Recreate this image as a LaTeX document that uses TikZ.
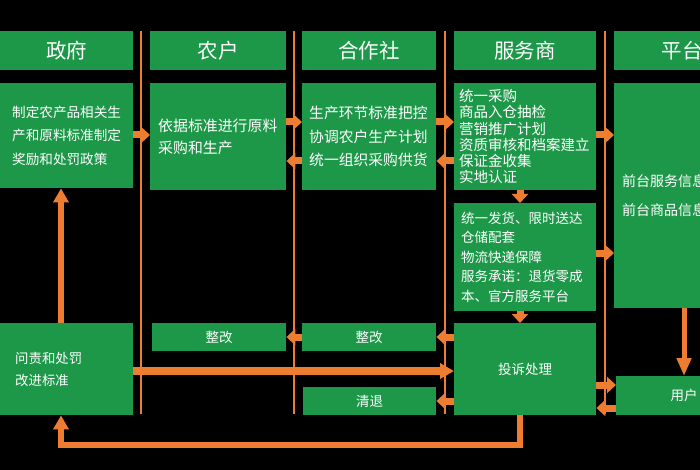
\documentclass[tikz,border=0pt]{standalone}
\usepackage{fontspec}
\setmainfont{Noto Sans CJK SC}
\usetikzlibrary{arrows.meta}
\usetikzlibrary{calc}
\definecolor{boxgreen}{RGB}{28,152,72}
\definecolor{lineorange}{RGB}{237,125,49}

\begin{document}
\begin{tikzpicture}
[x=1pt,y=-1pt,
  headdecorate/.style={fill=boxgreen,text=white,inner sep=0pt,anchor=north west,font=\fontsize{20.5}{24}\selectfont},
  boxdecorate/.style={fill=boxgreen,text=white,anchor=north west,align=left,inner ysep=0pt},
  smalldecorate/.style={fill=boxgreen,text=white,inner sep=0pt,anchor=north west,font=\fontsize{13.5}{16}\selectfont},
  linedecorate/.style={-,draw=lineorange,line width=1.6pt},
  arrowdecorate/.style={draw=lineorange,line width=7pt,-{Triangle[length=9pt,width=16pt]}},
  pathdecorate/.style={draw=lineorange,line width=6.5pt,-{Triangle[length=14pt,width=15pt]}}]
\useasboundingbox (0,0) rectangle (700,470);
\clip (0,0) rectangle (700,470);
\fill[black] (0,0) rectangle (700,470);
%% column separators
\foreach \sepname/\x in {sepa/141, sepb/294, sepc/445, sepd/605}
{
  \coordinate (\sepname top) at (\x,31);
  \coordinate (\sepname bottom) at (\x,414);
  \draw[linedecorate] (\sepname top) -- (\sepname bottom);
}
%% column heads
\foreach \nodename/\x/\w/\label in {govhead/0/133/政府, farmerhead/150/136/农户,
  coophead/302/134/合作社, svchead/454/142/服务商, plathead/614/136/平台}
{
  \node (\nodename) at (\x,31) [headdecorate,minimum width=\w pt,minimum height=39pt] {\label};
}
%% boxes
\node (govbody) at (0,83) [boxdecorate,inner xsep=12pt,text width=109pt,minimum height=105pt,
  font=\fontsize{13.6}{23.5}\selectfont] {制定农产品相关生\\产和原料标准制定\\奖励和处罚政策};
\node (farmerbody) at (150,83) [boxdecorate,inner xsep=8pt,text width=120pt,minimum height=107pt,
  font=\fontsize{14.9}{22}\selectfont] {依据标准进行原料\\采购和生产};
\node (coopbody) at (302,83) [boxdecorate,inner xsep=7pt,text width=120pt,minimum height=107pt,
  font=\fontsize{14.8}{23.5}\selectfont] {生产环节标准把控\\协调农户生产计划\\统一组织采购供货};
\node (svcbody) at (454,83) [boxdecorate,inner xsep=5pt,text width=132pt,minimum height=107pt,
  font=\fontsize{14.5}{16.3}\selectfont] {统一采购\\商品入仓抽检\\营销推广计划\\资质审核和档案建立\\保证金收集\\实地认证};
\node (deliver) at (454,203) [boxdecorate,inner xsep=7pt,text width=128pt,minimum height=108pt,
  font=\fontsize{13.5}{19.5}\selectfont] {统一发货、限时送达\\仓储配套\\物流快递保障\\服务承诺：退货零成\\本、官方服务平台};
\node (platbody) at (614,83) [boxdecorate,inner xsep=8pt,text width=120pt,minimum height=225pt,
  font=\fontsize{14}{29}\selectfont] {前台服务信息\\前台商品信息};
\node (problem) at (0,323) [boxdecorate,inner xsep=15pt,text width=103pt,minimum height=92pt,
  font=\fontsize{13.4}{22}\selectfont] {问责和处罚\\改进标准};
\node (farmerfix) at (152,323) [smalldecorate,minimum width=134pt,minimum height=28pt] {整改};
\node (coopfix) at (302,323) [smalldecorate,minimum width=134pt,minimum height=28pt] {整改};
\node (coopquit) at (303,387) [smalldecorate,minimum width=133pt,minimum height=28pt] {清退};
\node (complaint) at (454,323) [smalldecorate,minimum width=142pt,minimum height=92pt] {投诉处理};
\node (user) at (616,376) [smalldecorate,minimum width=136pt,minimum height=39pt] {用户};
%% short arrows
\foreach \startnode/\endnode/\y in {govbody/farmerbody/135, farmerbody/coopbody/122,
  coopbody/svcbody/122, svcbody/platbody/135, deliver/platbody/253, complaint/user/385}
{
  \draw[arrowdecorate] (\startnode.east |- 0,\y) -- (\endnode.west |- 0,\y);
}
\foreach \startnode/\endnode/\y in {coopbody/farmerbody/161, svcbody/coopbody/161,
  user/complaint/408, complaint/coopfix/337, complaint/coopquit/401, coopfix/farmerfix/337}
{
  \draw[arrowdecorate] (\startnode.west |- 0,\y) -- (\endnode.east |- 0,\y);
}
\foreach \startnode/\endnode in {svcbody/deliver, deliver/complaint}
{
  \draw[arrowdecorate] (\startnode.south -| 520,0) -- (\endnode.north -| 520,0);
}
\draw[arrowdecorate,line width=5pt,-{Triangle[length=18pt,width=14pt]}]
  (platbody.south -| 684,0) -- (user.north -| 684,0);
%% feedback paths
\coordinate (loopcorner) at (61,445);
\draw[pathdecorate,line width=7.5pt] (problem.east |- 0,371) -- (complaint.west |- 0,371);
\draw[pathdecorate] ([xshift=-5pt]complaint.south) |- (loopcorner) -- (loopcorner |- problem.south);
\draw[pathdecorate] (problem.north -| loopcorner) -- (govbody.south -| loopcorner);
\end{tikzpicture}
\end{document}
